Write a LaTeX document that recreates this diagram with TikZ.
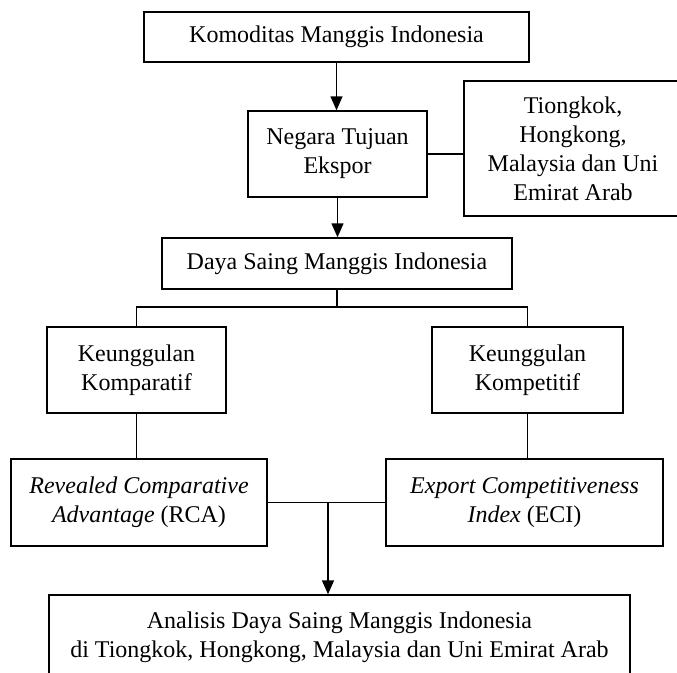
\documentclass[tikz,border=0pt]{standalone}
\usepackage{fontspec}
\setmainfont{Liberation Serif}
\usetikzlibrary{arrows.meta}

\begin{document}
\begin{tikzpicture}[x=1pt,y=-1pt,
    box/.style={draw,line width=1.4pt,align=center,inner sep=0pt,
      font=\fontsize{24}{29}\selectfont},
    link/.style={line width=1.4pt},
    flow/.style={line width=1.4pt,-{Triangle[length=14pt,width=12pt]}},
  ]
  \useasboundingbox (0,0) rectangle (677,672);

  \node[box,minimum width=385pt,minimum height=50pt] (komoditas) at (336.5,37)  {Komoditas Manggis Indonesia};
  \node[box,minimum width=179pt,minimum height=86pt] (negara)    at (337.5,154) {Negara Tujuan\\Ekspor};
  \node[box,minimum width=218pt,minimum height=135pt](tujuan)    at (573,148.5) {Tiongkok,\\Hongkong,\\Malaysia dan Uni\\Emirat Arab};
  \node[box,minimum width=350pt,minimum height=51pt] (dayasaing) at (337,263.5) {Daya Saing Manggis Indonesia};
  \node[box,minimum width=179pt,minimum height=86pt] (komparatif) at (136.5,370) {Keunggulan\\Komparatif};
  \node[box,minimum width=191pt,minimum height=86pt] (kompetitif) at (527.5,370) {Keunggulan\\Kompetitif};
  \node[box,minimum width=256pt,minimum height=87pt] (rca)       at (139,502.5) {\textit{Revealed Comparative}\\\textit{Advantage} (RCA)};
  \node[box,minimum width=277pt,minimum height=87pt] (eci)       at (524.5,502.5) {\textit{Export Competitiveness}\\\textit{Index} (ECI)};
  \node[box,minimum width=581pt,minimum height=85pt] (analisis)  at (339.5,637.5) {Analisis Daya Saing Manggis Indonesia\\di Tiongkok, Hongkong, Malaysia dan Uni Emirat Arab};

  \coordinate (split) at (337,307);
  \coordinate (join)  at (328,502.5);

  \draw[flow] (komoditas.south) -- (komoditas.south |- negara.north);
  \draw[link] (negara.east) -- (negara.east -| tujuan.west);
  \draw[flow] (negara.south) -- (negara.south |- dayasaing.north);

  \draw[link] (dayasaing.south) -- (dayasaing.south |- split);
  \draw[link] (komparatif.north) -- (komparatif.north |- split) -- (kompetitif.north |- split) -- (kompetitif.north);
  \draw[link] (komparatif.south) -- (komparatif.south |- rca.north);
  \draw[link] (kompetitif.south) -- (kompetitif.south |- eci.north);

  \draw[link] (rca.east) -- (eci.west);
  \draw[flow] (join) -- (join |- analisis.north);
\end{tikzpicture}
\end{document}
